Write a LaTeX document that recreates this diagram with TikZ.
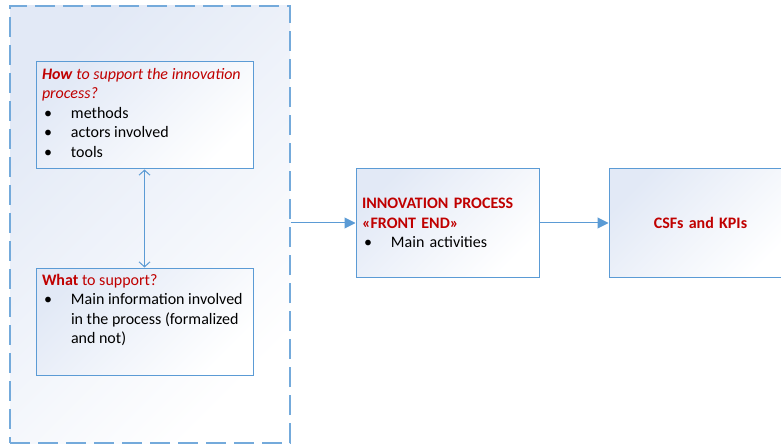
\documentclass[tikz,border=0pt]{standalone}
\usepackage{fontspec}
\setmainfont{Carlito}
\usetikzlibrary{positioning,arrows.meta}
\definecolor{linkblue}{RGB}{91,155,213}
\definecolor{boxfill}{RGB}{226,233,246}
\definecolor{titlered}{RGB}{192,0,0}
\newcommand{\bul}{\hspace*{2pt}\makebox[27pt][l]{\textbullet}}
\begin{document}
\begin{tikzpicture}[x=1pt, y=-1pt,
    box/.style={draw=linkblue, line width=1pt, rectangle, top color=boxfill, bottom color=white, shading angle=45,
        inner sep=0pt, minimum width=217pt, minimum height=107pt, font=\fontsize{16}{19.5}\selectfont},
    stepbox/.style={box, minimum width=183pt, minimum height=108pt, text width=171pt},
    link/.style={draw=linkblue, line width=1pt}]
    \useasboundingbox (0,0) rectangle (781,446);

    % dashed frame round the two questions
    \node (outer) [draw=linkblue!85, line width=1.3pt, dash pattern=on 20pt off 8pt, rectangle,
        top color=boxfill, bottom color=white, shading angle=45,
        minimum width=280pt, minimum height=437pt] at (150,224.5) {};

    \node (how) [box] at (144.5,115.5) {\parbox[c][95pt][t]{205pt}{%
        \textcolor{titlered}{\textbf{\textit{How}} \textit{to support the innovation}}\\
        \textcolor{titlered}{\textit{process?}}\\
        \bul methods\\
        \bul actors involved\\
        \bul tools}};
    \node (what) [box, below=98pt of how] {\parbox[c][95pt][t]{205pt}{%
        \textcolor{titlered}{\textbf{What}} \textcolor{titlered}{to support?}\\
        \bul Main information involved\\
        \hspace*{29pt}in the process (formalized\\
        \hspace*{29pt}and not)}};

    \node (innov) [stepbox, align=left] at (447.5,223) {%
        \textcolor{titlered}{\textbf{INNOVATION PROCESS}}\\
        \textcolor{titlered}{\textbf{«FRONT END»}}\\
        \bul Main activities};
    \node (csf) [stepbox, align=center, right=69pt of innov] {\textcolor{titlered}{\textbf{CSFs and KPIs}}};

    \draw[link, {Straight Barb[length=5pt,width=11pt]}-{Straight Barb[length=5pt,width=11pt]}] (how) -- (what);
    \draw[link, -{Triangle[length=11pt,width=11pt]}] (outer.east |- innov.west) -- (innov.west);
    \draw[link, -{Triangle[length=11pt,width=11pt]}] (innov) -- (csf);
\end{tikzpicture}
\end{document}
